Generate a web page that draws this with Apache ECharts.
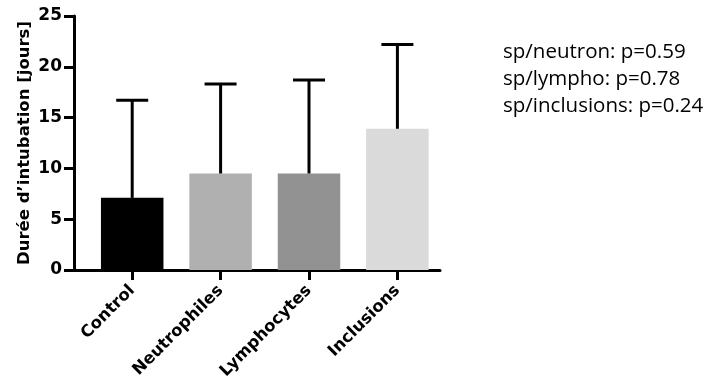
<!DOCTYPE html>
<html>
<head>
<meta charset="utf-8">
<script src="https://cdn.jsdelivr.net/npm/echarts@6/dist/echarts.min.js"></script>
<style>html,body{margin:0;padding:0;background:#fff;}#c{width:713px;height:381px;}</style>
</head>
<body>
<div id="c"></div>
<script>
var categories = ['Control', 'Neutrophiles', 'Lymphocytes', 'Inclusions'];
var means = [7.1, 9.5, 9.5, 13.9];
var sds = [9.6, 8.8, 9.2, 8.3];
var barColors = ['#000000', '#b0b0b0', '#929292', '#dadada'];
var yTicks = [0, 5, 10, 15, 20, 25];
var pValues = ['sp/neutron: p=0.59', 'sp/lympho: p=0.78', 'sp/inclusions: p=0.24'];
var yName = 'Durée d’intubation [jours]';

var lbl = {fontFamily: 'DejaVu Sans', fontWeight: 'bold', color: '#000'};
var chart = echarts.init(document.getElementById('c'));
chart.setOption({
  animation: false,
  grid: [
    {left: 74, top: 16, width: 366, height: 254, containLabel: false, outerBoundsMode: 'none'},
    {left: 88, top: 16, width: 353.6, height: 254, containLabel: false, outerBoundsMode: 'none'}
  ],
  xAxis: [
    {gridIndex: 0, type: 'value', min: 0, max: 1, splitLine: {show: false},
     axisLine: {show: true, onZero: false, lineStyle: {color: '#000', width: 3}},
     axisTick: {show: false}, axisLabel: {show: false}},
    {gridIndex: 1, type: 'category', data: categories,
     axisLine: {show: false},
     axisTick: {show: true, alignWithLabel: true, length: 10, lineStyle: {color: '#000', width: 3}},
     axisLabel: Object.assign({rotate: 45, fontSize: 16.5, margin: 18, interval: 0}, lbl)}
  ],
  yAxis: [
    {gridIndex: 0, type: 'value', min: yTicks[0], max: yTicks[yTicks.length - 1], interval: 5,
     name: yName, nameLocation: 'middle', nameGap: 41, nameMoveOverlap: false,
     nameTextStyle: Object.assign({fontSize: 16.5}, lbl),
     splitLine: {show: false},
     axisLine: {show: true, lineStyle: {color: '#000', width: 3}},
     axisTick: {show: true, length: 10, lineStyle: {color: '#000', width: 3}},
     axisLabel: Object.assign({fontSize: 17, margin: 12}, lbl)},
    {gridIndex: 1, type: 'value', min: 0, max: 25, show: false}
  ],
  series: [
    {type: 'bar', xAxisIndex: 1, yAxisIndex: 1, barWidth: 62.5,
     data: means.map(function (v, i) { return {value: v, itemStyle: {color: barColors[i]}}; }),
     z: 2},
    {type: 'custom', xAxisIndex: 1, yAxisIndex: 1, z: 3,
     data: means.map(function (v, i) { return [i, v, v + sds[i]]; }),
     renderItem: function (params, api) {
       var base = api.coord([api.value(0), api.value(1)]);
       var top = api.coord([api.value(0), api.value(2)]);
       var hw = 16;
       return {type: 'group', children: [
         {type: 'line', shape: {x1: base[0], y1: base[1], x2: top[0], y2: top[1]},
          style: {stroke: '#000', lineWidth: 3}},
         {type: 'line', shape: {x1: top[0] - hw, y1: top[1], x2: top[0] + hw, y2: top[1]},
          style: {stroke: '#000', lineWidth: 3}}
       ]};
     }}
  ],
  graphic: pValues.map(function (t, i) {
    return {type: 'text', left: 503, top: 42 + i * 27,
      style: {text: t, fontFamily: 'Open Sans', fontSize: 20.5, fill: '#000'}};
  })
});
</script>
</body>
</html>
